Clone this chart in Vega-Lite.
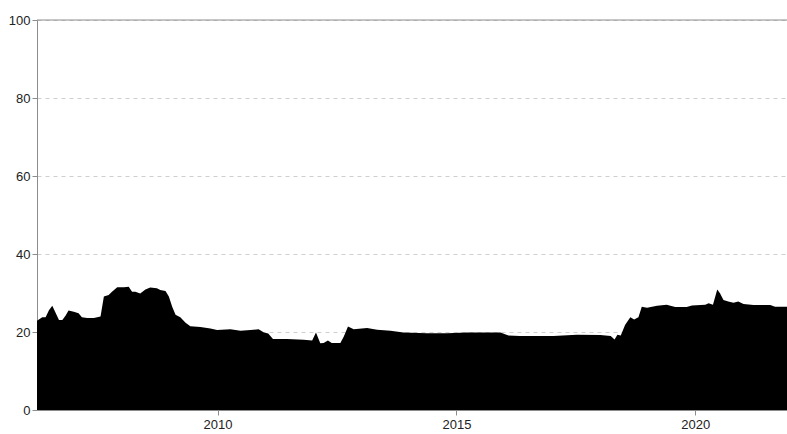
{
  "$schema": "https://vega.github.io/schema/vega-lite/v6.json",
  "autosize": "none",
  "width": 750,
  "height": 390,
  "padding": {"left": 37, "top": 20, "right": 0, "bottom": 24},
  "background": "white",
  "config": {
    "view": {"stroke": null},
    "axis": {
      "labelFont": "Liberation Sans",
      "labelFontSize": 13,
      "labelColor": "#222",
      "domainColor": "#8c8c8c",
      "tickColor": "#8c8c8c",
      "tickSize": 5,
      "title": null
    }
  },
  "datasets": {
    "series": [
      {"year": 2006.22, "value": 22.9},
      {"year": 2006.33, "value": 23.8},
      {"year": 2006.40, "value": 23.8},
      {"year": 2006.47, "value": 25.6},
      {"year": 2006.54, "value": 26.7},
      {"year": 2006.68, "value": 23.1},
      {"year": 2006.75, "value": 23.1},
      {"year": 2006.82, "value": 24.2},
      {"year": 2006.88, "value": 25.5},
      {"year": 2006.99, "value": 25.2},
      {"year": 2007.09, "value": 24.8},
      {"year": 2007.16, "value": 23.8},
      {"year": 2007.27, "value": 23.6},
      {"year": 2007.41, "value": 23.6},
      {"year": 2007.55, "value": 24.0},
      {"year": 2007.62, "value": 29.1},
      {"year": 2007.72, "value": 29.5},
      {"year": 2007.79, "value": 30.3},
      {"year": 2007.90, "value": 31.5},
      {"year": 2008.04, "value": 31.5},
      {"year": 2008.14, "value": 31.6},
      {"year": 2008.21, "value": 30.3},
      {"year": 2008.28, "value": 30.3},
      {"year": 2008.38, "value": 29.9},
      {"year": 2008.49, "value": 30.9},
      {"year": 2008.59, "value": 31.4},
      {"year": 2008.73, "value": 31.2},
      {"year": 2008.80, "value": 30.8},
      {"year": 2008.91, "value": 30.5},
      {"year": 2008.98, "value": 29.1},
      {"year": 2009.05, "value": 26.5},
      {"year": 2009.12, "value": 24.4},
      {"year": 2009.22, "value": 23.8},
      {"year": 2009.33, "value": 22.4},
      {"year": 2009.43, "value": 21.5},
      {"year": 2009.64, "value": 21.3},
      {"year": 2009.85, "value": 20.9},
      {"year": 2009.99, "value": 20.5},
      {"year": 2010.27, "value": 20.7},
      {"year": 2010.48, "value": 20.3},
      {"year": 2010.69, "value": 20.5},
      {"year": 2010.86, "value": 20.7},
      {"year": 2010.97, "value": 19.9},
      {"year": 2011.06, "value": 19.6},
      {"year": 2011.16, "value": 18.2},
      {"year": 2011.45, "value": 18.2},
      {"year": 2011.80, "value": 18.0},
      {"year": 2011.98, "value": 17.8},
      {"year": 2012.06, "value": 19.9},
      {"year": 2012.15, "value": 17.1},
      {"year": 2012.22, "value": 17.2},
      {"year": 2012.31, "value": 17.8},
      {"year": 2012.39, "value": 17.2},
      {"year": 2012.57, "value": 17.2},
      {"year": 2012.64, "value": 18.8},
      {"year": 2012.73, "value": 21.4},
      {"year": 2012.85, "value": 20.7},
      {"year": 2013.13, "value": 21.0},
      {"year": 2013.34, "value": 20.6},
      {"year": 2013.62, "value": 20.3},
      {"year": 2013.89, "value": 19.9},
      {"year": 2014.38, "value": 19.7},
      {"year": 2014.80, "value": 19.7},
      {"year": 2015.22, "value": 19.9},
      {"year": 2015.92, "value": 19.9},
      {"year": 2016.09, "value": 19.1},
      {"year": 2016.33, "value": 19.0},
      {"year": 2017.03, "value": 19.0},
      {"year": 2017.52, "value": 19.3},
      {"year": 2018.01, "value": 19.2},
      {"year": 2018.23, "value": 19.0},
      {"year": 2018.31, "value": 18.1},
      {"year": 2018.37, "value": 19.3},
      {"year": 2018.44, "value": 19.1},
      {"year": 2018.53, "value": 21.8},
      {"year": 2018.64, "value": 23.8},
      {"year": 2018.72, "value": 23.2},
      {"year": 2018.81, "value": 23.8},
      {"year": 2018.88, "value": 26.5},
      {"year": 2018.99, "value": 26.2},
      {"year": 2019.20, "value": 26.7},
      {"year": 2019.40, "value": 27.0},
      {"year": 2019.58, "value": 26.4},
      {"year": 2019.82, "value": 26.4},
      {"year": 2019.93, "value": 26.8},
      {"year": 2020.21, "value": 27.0},
      {"year": 2020.28, "value": 27.4},
      {"year": 2020.37, "value": 27.0},
      {"year": 2020.46, "value": 30.9},
      {"year": 2020.52, "value": 29.9},
      {"year": 2020.59, "value": 28.2},
      {"year": 2020.69, "value": 27.8},
      {"year": 2020.80, "value": 27.5},
      {"year": 2020.90, "value": 27.8},
      {"year": 2021.01, "value": 27.2},
      {"year": 2021.22, "value": 26.9},
      {"year": 2021.57, "value": 26.9},
      {"year": 2021.67, "value": 26.5},
      {"year": 2021.92, "value": 26.5}
    ],
    "top": [{"v": 100}]
  },
  "layer": [
    {
      "data": {"name": "series"},
      "mark": {"type": "area", "color": "black", "interpolate": "linear", "clip": true},
      "encoding": {
        "x": {
          "field": "year",
          "type": "quantitative",
          "scale": {"domain": [2006.22, 2021.92], "nice": false, "zero": false},
          "axis": {"values": [2010, 2015, 2020], "format": "d", "grid": false, "labelPadding": 3}
        },
        "y": {
          "field": "value",
          "type": "quantitative",
          "scale": {"domain": [0, 100], "nice": false},
          "axis": {
            "values": [0, 20, 40, 60, 80, 100],
            "grid": true,
            "gridColor": "#cfcfcf",
            "gridDash": [4, 4],
            "gridWidth": 1,
            "labelPadding": 2
          }
        }
      }
    },
    {
      "data": {"name": "top"},
      "mark": {"type": "rule", "color": "#8c8c8c", "strokeWidth": 1},
      "encoding": {"y": {"field": "v", "type": "quantitative"}}
    }
  ]
}
